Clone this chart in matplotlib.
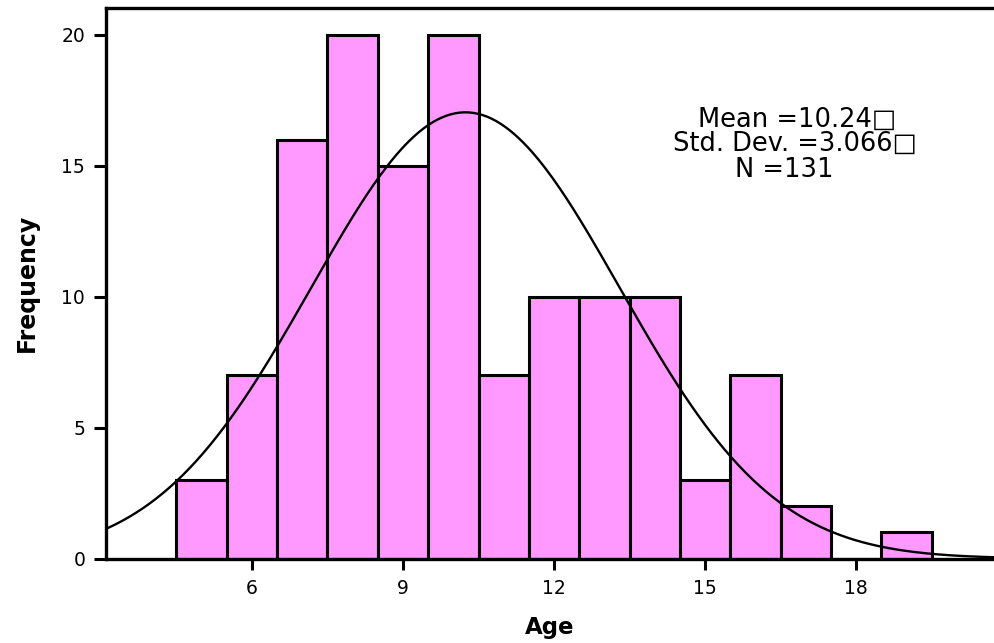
import numpy as np
import matplotlib
matplotlib.use("Agg")
import matplotlib.pyplot as plt

# age histogram with fitted normal curve
ages = [5, 6, 7, 8, 9, 10, 11, 12, 13, 14, 15, 16, 17, 18, 19]
counts = [3, 7, 16, 20, 15, 20, 7, 10, 10, 10, 3, 7, 2, 0, 1]
mean = 10.24
sd = 3.066
n = 131
bin_width = 1.0

xticks = [6, 9, 12, 15, 18]
yticks = [0, 5, 10, 15, 20]

plt.rcParams['font.family'] = ['DejaVu Sans']

fig = plt.figure(figsize=(9.94, 6.43), dpi=100)
ax = fig.add_axes([106 / 994, 1 - 558.5 / 643, 888 / 994, 551 / 643])

ax.bar(ages, counts, width=bin_width, color='#ff99ff', edgecolor='black',
       linewidth=2.2, zorder=2)

xs = np.linspace(3.0, 21.0, 400)
pdf = np.exp(-0.5 * ((xs - mean) / sd) ** 2) / (sd * np.sqrt(2 * np.pi))
ax.plot(xs, pdf * n * bin_width, color='black', linewidth=1.7, zorder=3)

ax.set_xlim(3.10, 20.74)
ax.set_ylim(0, 21.05)
ax.set_xticks(xticks)
ax.set_yticks(yticks)

for side in ['left', 'bottom', 'top']:
    ax.spines[side].set_linewidth(2.4)
ax.spines['right'].set_visible(False)

ax.tick_params(axis='y', direction='out', length=9, width=2.2, pad=6,
               labelsize=13.5)
ax.tick_params(axis='x', direction='out', length=8, width=2.2, pad=7,
               labelsize=13.5)

ax.set_xlabel('Age', fontsize=16.5, fontweight='bold', labelpad=13)
ax.set_ylabel('Frequency', fontsize=17, fontweight='bold', labelpad=16)

# summary statistics block
ax.text(16.83, 16.49, 'Mean =10.24\u25a1', ha='center', va='baseline',
        fontsize=18.5)
ax.text(16.79, 15.58, 'Std. Dev. =3.066\u25a1', ha='center', va='baseline',
        fontsize=18.5)
ax.text(16.57, 14.58, 'N =131', ha='center', va='baseline', fontsize=18.5)

fig.savefig('out.png', dpi=100)
